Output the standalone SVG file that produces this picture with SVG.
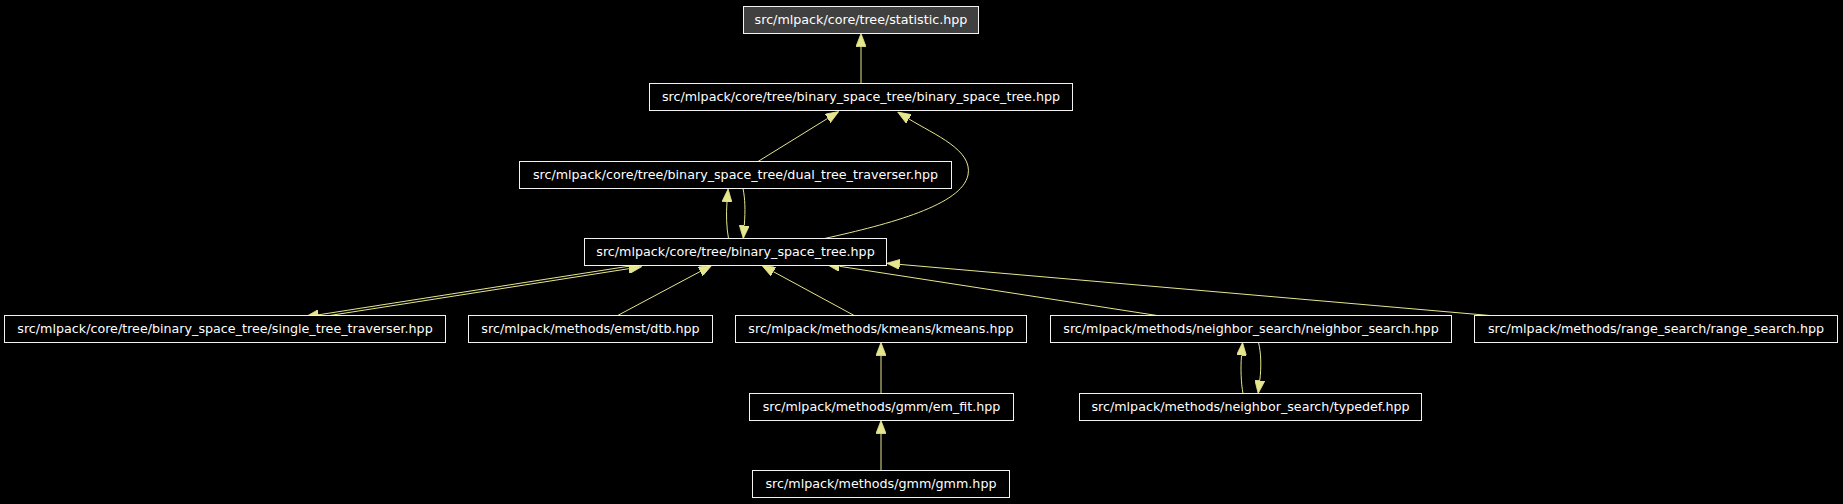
<svg xmlns="http://www.w3.org/2000/svg" width="1843" height="504" viewBox="0 0 1843 504">
<style>
.bg{fill:#000000}
.node rect{fill:#000000;stroke:#f2f2f2;stroke-width:1}
.node.root rect{fill:#404040}
.node text{font-family:"DejaVu Sans",Verdana,sans-serif;font-size:12.7px;fill:#ffffff;text-anchor:middle}
.edges path{fill:none;stroke:#e6e68f;stroke-width:1}
</style>
<defs>
<marker id="ah" viewBox="0 0 13 10" refX="0" refY="5" markerWidth="13" markerHeight="10" markerUnits="userSpaceOnUse" orient="auto">
<path d="M0,0 L13,5 L0,10 z" fill="#e6e68f" stroke="#e6e68f" stroke-width="0.8"/>
</marker>
</defs>
<rect class="bg" x="0" y="0" width="1843" height="504"/>
<g id="edges" class="edges">
<path d="M861,83.5 L861,46.5" marker-end="url(#ah)"/>
<path d="M758,161.5 L827.7,118.4" marker-end="url(#ah)"/>
<path d="M824.5,238.5 C890,224 962,205 968,175 C973,150 935,135 908.8,118.9" marker-end="url(#ah)"/>
<path d="M728.5,238.5 C726.5,228 726,214 727,202" marker-end="url(#ah)"/>
<path d="M743,188.5 C745,198 745.5,210 744.3,225.5" marker-end="url(#ah)"/>
<path d="M650,262.9 L318.6,314.8" marker-end="url(#ah)"/>
<path d="M326.5,316 L628.8,268.7" marker-end="url(#ah)"/>
<path d="M616.7,316 L700.2,271.5" marker-end="url(#ah)"/>
<path d="M855.1,316 L773.4,271.7" marker-end="url(#ah)"/>
<path d="M1160.3,316 L839.5,266.3" marker-end="url(#ah)"/>
<path d="M1495.7,316 L899.7,264.4" marker-end="url(#ah)"/>
<path d="M881,393.5 L881,355.5" marker-end="url(#ah)"/>
<path d="M881,470.5 L881,433.5" marker-end="url(#ah)"/>
<path d="M1243,393.5 C1241,383 1240.5,368 1241.5,355.5" marker-end="url(#ah)"/>
<path d="M1258.5,342.5 C1261,352 1261.5,367 1259.8,380.5" marker-end="url(#ah)"/>
</g>
<g id="node_statistic" class="node root"><rect x="743.5" y="6.5" width="235" height="27"/><text x="861" y="24">src/mlpack/core/tree/statistic.hpp</text></g>
<g id="node_bst_bst" class="node"><rect x="649.5" y="83.5" width="423" height="27"/><text x="861" y="101">src/mlpack/core/tree/binary_space_tree/binary_space_tree.hpp</text></g>
<g id="node_dual" class="node"><rect x="519.5" y="161.5" width="432" height="27"/><text x="735.5" y="179">src/mlpack/core/tree/binary_space_tree/dual_tree_traverser.hpp</text></g>
<g id="node_bst" class="node"><rect x="584.5" y="238.5" width="302" height="27"/><text x="735.5" y="256">src/mlpack/core/tree/binary_space_tree.hpp</text></g>
<g id="node_single" class="node"><rect x="4.5" y="315.5" width="441" height="27"/><text x="225" y="333">src/mlpack/core/tree/binary_space_tree/single_tree_traverser.hpp</text></g>
<g id="node_dtb" class="node"><rect x="468.5" y="315.5" width="244" height="27"/><text x="590.5" y="333">src/mlpack/methods/emst/dtb.hpp</text></g>
<g id="node_kmeans" class="node"><rect x="735.5" y="315.5" width="291" height="27"/><text x="881" y="333">src/mlpack/methods/kmeans/kmeans.hpp</text></g>
<g id="node_ns" class="node"><rect x="1050.5" y="315.5" width="401" height="27"/><text x="1251" y="333">src/mlpack/methods/neighbor_search/neighbor_search.hpp</text></g>
<g id="node_rs" class="node"><rect x="1474.5" y="315.5" width="363" height="27"/><text x="1656" y="333">src/mlpack/methods/range_search/range_search.hpp</text></g>
<g id="node_emfit" class="node"><rect x="749.5" y="393.5" width="264" height="27"/><text x="881.5" y="411">src/mlpack/methods/gmm/em_fit.hpp</text></g>
<g id="node_typedef" class="node"><rect x="1079.5" y="393.5" width="342" height="27"/><text x="1250.5" y="411">src/mlpack/methods/neighbor_search/typedef.hpp</text></g>
<g id="node_gmm" class="node"><rect x="752.5" y="470.5" width="257" height="27"/><text x="881" y="488">src/mlpack/methods/gmm/gmm.hpp</text></g>
</svg>
